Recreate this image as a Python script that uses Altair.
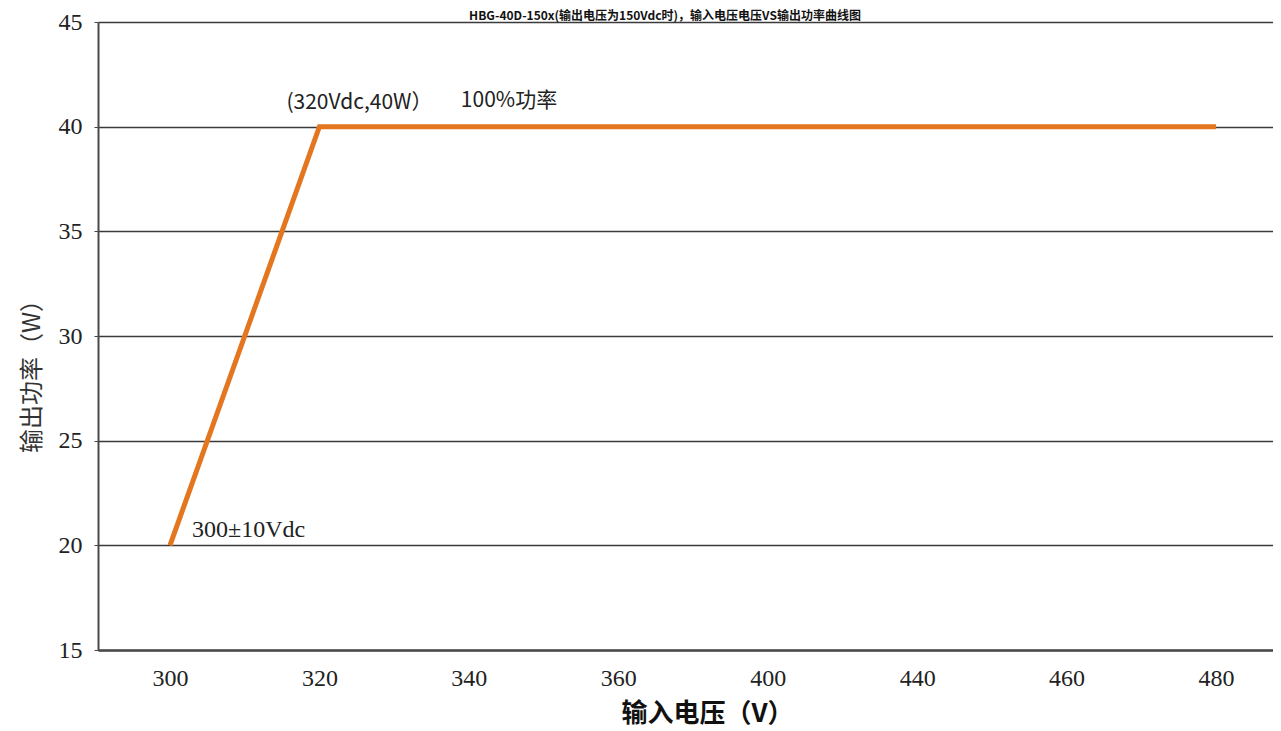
import altair as alt
import pandas as pd

# ---- data ----
voltages = ["300", "320", "340", "360", "400", "440", "460", "480"]
power = [20, 40, 40, 40, 40, 40, 40, 40]

ann_labels = ["(320Vdc,40W）", "100%功率", "300±10Vdc"]
ann_x = ["320", "340", "300"]
ann_y = [41.15, 41.25, 20.75]

title_text = "HBG-40D-150x(输出电压为150Vdc时)，输入电压电压VS输出功率曲线图"

df = pd.DataFrame({"v": voltages, "p": power})
ann = pd.DataFrame({"t": ann_labels, "v": ann_x, "p": ann_y})
title_df = pd.DataFrame({"t": [title_text]})

x_scale = alt.Scale(domain=voltages, type="point", padding=0.4316, align=0.558)
y_scale = alt.Scale(domain=[15, 45], nice=False, zero=False)

x_enc = alt.X(
    "v:O",
    scale=x_scale,
    sort=voltages,
    axis=alt.Axis(
        title="输入电压（V）",
        titleFont="Noto Sans CJK SC",
        titleFontSize=26,
        titleFontWeight="bold",
        titleColor="#111111",
        titleX=609,
        titleY=63,
        titleBaseline="middle",
        labelFont="Liberation Serif",
        labelFontSize=24,
        labelColor="#222222",
        labelAngle=0,
        labelPadding=16,
        ticks=False,
        domainColor="#4a4a4a",
        domainWidth=2.5,
        grid=False,
    ),
)
y_enc = alt.Y(
    "p:Q",
    scale=y_scale,
    axis=alt.Axis(
        title="输出功率（W）",
        titleFont="Noto Sans CJK SC",
        titleFontSize=24,
        titleFontWeight="normal",
        titleColor="#333333",
        titleX=-66,
        titleY=348,
        titleAngle=270,
        titleBaseline="middle",
        values=[15, 20, 25, 30, 35, 40, 45],
        labelFont="Liberation Serif",
        labelFontSize=24,
        labelColor="#222222",
        labelPadding=12,
        tickSize=4,
        tickColor="#444444",
        domainColor="#4a4a4a",
        domainWidth=2,
        grid=True,
        gridColor="#3a3a3a",
        gridWidth=1.5,
    ),
)

line = alt.Chart(df).mark_line(color="#E3761F", strokeWidth=5).encode(x=x_enc, y=y_enc)

def ann_layer(i, font, size, dx):
    return alt.Chart(ann.iloc[[i]]).mark_text(
        align="left", baseline="middle", font=font, fontSize=size, color="#222222", dx=dx
    ).encode(
        x=alt.X("v:O", scale=x_scale, sort=voltages),
        y=alt.Y("p:Q", scale=y_scale),
        text="t:N",
    )

title_layer = alt.Chart(title_df).mark_text(
    align="center", baseline="middle", font="Noto Sans CJK SC", fontSize=12,
    fontWeight="bold", color="#111111",
).encode(text="t:N", x=alt.value(567), y=alt.value(-6))

chart = alt.layer(
    line,
    ann_layer(0, "Noto Sans CJK SC", 21, -33),
    ann_layer(1, "Noto Sans CJK SC", 21, -8),
    ann_layer(2, "Liberation Serif", 24, 22),
    title_layer,
).properties(
    width=1175,
    height=628,
    autosize=alt.AutoSizeParams(type="none"),
    padding={"left": 90, "top": 14, "right": 0, "bottom": 78},
).configure_view(stroke=None).configure(background="white")

chart.save("out.html", embed_options={"renderer": "svg", "actions": False})
